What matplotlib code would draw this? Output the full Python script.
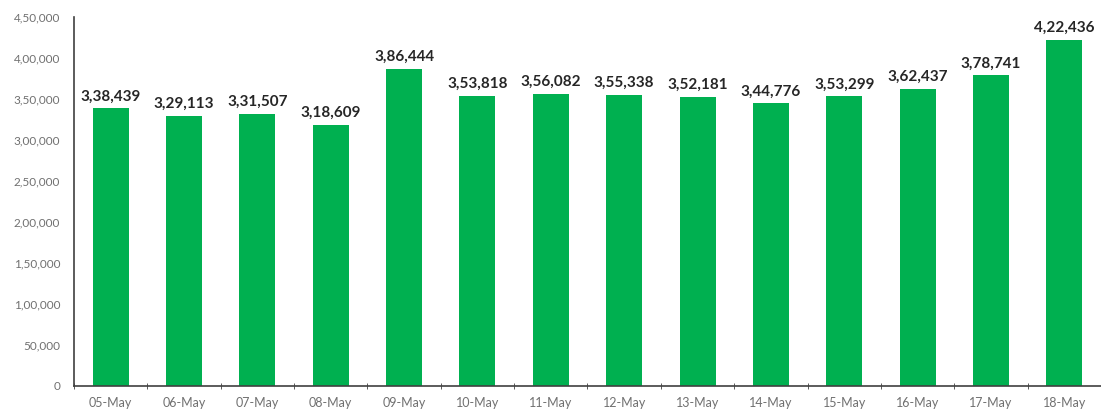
import matplotlib.pyplot as plt
from matplotlib.ticker import FuncFormatter, MultipleLocator

dates = ["05-May", "06-May", "07-May", "08-May", "09-May", "10-May", "11-May",
         "12-May", "13-May", "14-May", "15-May", "16-May", "17-May", "18-May"]
cases = [338439, 329113, 331507, 318609, 386444, 353818, 356082,
         355338, 352181, 344776, 353299, 362437, 378741, 422436]


# Indian style grouping, e.g. 3,38,439
def indian_format(value):
    s = str(int(round(value)))
    if len(s) <= 3:
        return s
    last3 = s[-3:]
    rest = s[:-3]
    groups = []
    while len(rest) > 2:
        groups.insert(0, rest[-2:])
        rest = rest[:-2]
    if rest:
        groups.insert(0, rest)
    return ",".join(groups) + "," + last3


fig = plt.figure(figsize=(11.01, 4.18), dpi=100)
ax = fig.add_axes([74 / 1101, 32 / 418, 1 - 74 / 1101, 369 / 418])

x = list(range(len(dates)))
ax.bar(x, cases, width=0.49, color="#00B050", zorder=2)

for xi, val in zip(x, cases):
    ax.text(xi, val + 6000, indian_format(val), ha="center", va="bottom",
            fontsize=11, fontweight="bold", color="#262626", family="Lato")

ax.set_xlim(-0.5, 13.35)
ax.set_ylim(0, 450000)
ax.yaxis.set_major_locator(MultipleLocator(50000))
ax.yaxis.set_major_formatter(FuncFormatter(lambda v, p: indian_format(v)))

ax.set_xticks(x)
ax.set_xticklabels(dates)
ax.set_xticks([i - 0.5 for i in range(len(dates) + 1)], minor=True)
ax.tick_params(axis="x", which="major", length=0, pad=8, labelsize=9, labelcolor="#707070")
ax.tick_params(axis="x", which="minor", length=4, direction="inout", color="#404040")
ax.tick_params(axis="y", length=0, pad=10, labelsize=8.5, labelcolor="#707070")
for lab in ax.get_xticklabels() + ax.get_yticklabels():
    lab.set_family("Lato")

for side in ["top", "right"]:
    ax.spines[side].set_visible(False)
ax.spines["left"].set_color("#404040")
ax.spines["bottom"].set_color("#404040")
ax.spines["left"].set_linewidth(1.2)
ax.spines["bottom"].set_linewidth(1.2)

plt.savefig("out.png", dpi=100)
